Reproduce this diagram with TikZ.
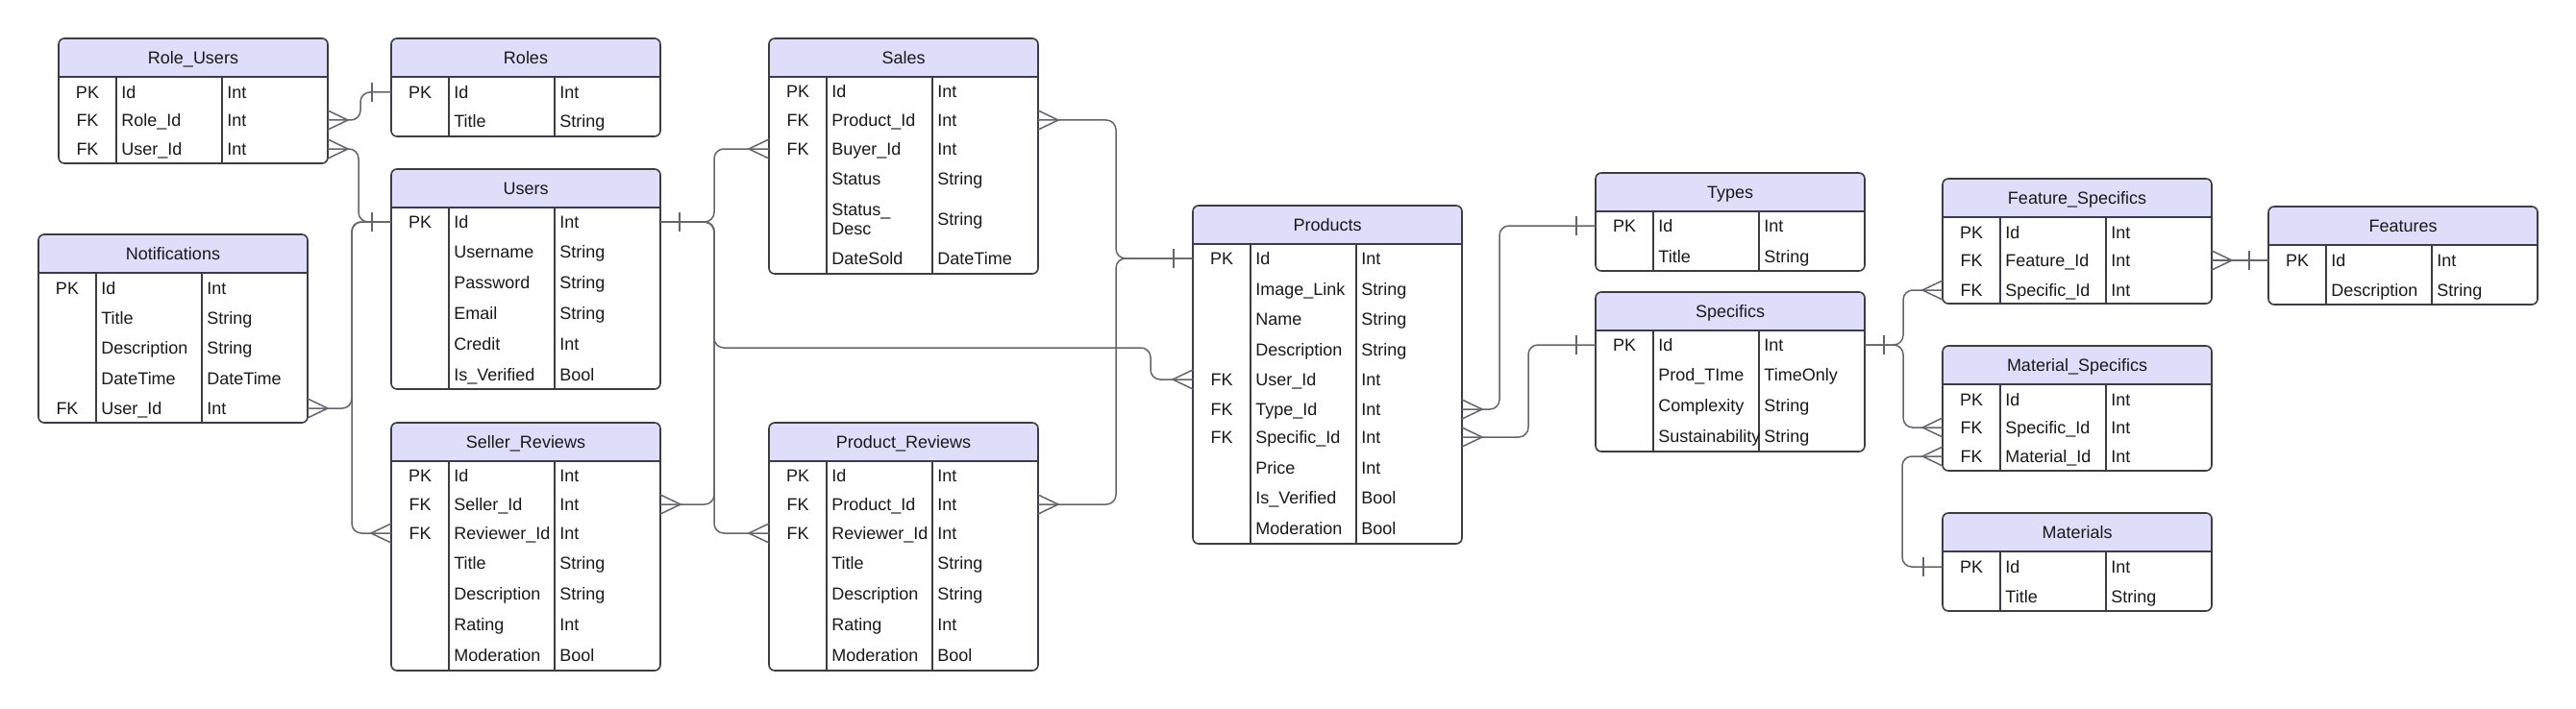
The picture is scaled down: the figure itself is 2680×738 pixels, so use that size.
\documentclass[tikz,border=0pt]{standalone}
\usepackage{fontspec}
\setmainfont{Liberation Sans}

\definecolor{hdr}{RGB}{222,222,250}
\definecolor{tabline}{RGB}{60,60,68}
\definecolor{linkline}{RGB}{100,100,110}
\definecolor{txt}{RGB}{25,25,25}

% one table: name, left x, top y, bottom y, title, rows y/key/field/type
\newcommand{\ertable}[6]{%
  \begin{scope}
    \clip[rounded corners=3pt] (#2,#3) rectangle (#2+280,#4);
    \fill[white] (#2,#3) rectangle (#2+280,#4);
    \fill[hdr] (#2,#3) rectangle (#2+280,#3+40);
  \end{scope}
  \draw[tbl, rounded corners=3pt] (#2,#3) rectangle (#2+280,#4);
  \draw[tbl] (#2,#3+40) -- (#2+280,#3+40)
             (#2+60,#3+40) -- (#2+60,#4)
             (#2+170,#3+40) -- (#2+170,#4);
  \node[ttl] (#1) at (#2+140,#3+22) {\vphantom{Ag}#5};
  \foreach \y/\kk/\fld/\typ [count=\i] in {#6} {
    \node[keytxt] at (#2+30,\y+2) {\vphantom{Ag}\kk};
    \node[fldtxt] (#1-\i) at (#2+60,\y+2) {\vphantom{Ag}\fld};
    \node[fldtxt] at (#2+170,\y+2) {\vphantom{Ag}\typ};
    \coordinate (#1-\i-w) at (#2,\y);
    \coordinate (#1-\i-e) at (#2+280,\y);
  }
}
% crow's foot and bar at a row end
\newcommand{\crowfoot}[2]{\draw[endline] (#1) +(0,-10) -- +(#2,0) -- +(0,10);}
\newcommand{\onebar}[2]{\draw[endline] (#1) +(#2,-10) -- +(#2,10);}

\begin{document}
\begin{tikzpicture}[x=0.5pt, y=-0.5pt,
  tbl/.style={draw=tabline, line width=0.8pt},
  link/.style={draw=linkline, line width=0.75pt, rounded corners=5pt},
  endline/.style={draw=linkline, line width=0.75pt},
  ttl/.style={font=\fontsize{9}{10}\selectfont, text=txt, inner sep=0pt},
  keytxt/.style={font=\fontsize{9}{10}\selectfont, text=txt, inner sep=0pt},
  fldtxt/.style={font=\fontsize{9}{10}\selectfont, text=txt, anchor=west, inner xsep=2.5pt, inner ysep=0pt}]

\useasboundingbox (0,0) rectangle (2680,738);
\fill[white] (0,0) rectangle (2680,738);

\ertable{roleusers}{61}{40}{170}{Role\_Users}{96/PK/Id/Int, 125/FK/Role\_Id/Int, 155/FK/User\_Id/Int}
\ertable{roles}{407}{40}{142}{Roles}{96/PK/Id/Int, 126/{}/Title/String}
\ertable{users}{407}{176}{405}{Users}{231/PK/Id/Int, 262/{}/Username/String, 294/{}/Password/String, 326/{}/Email/String, 358/{}/Credit/Int, 390/{}/Is\_Verified/Bool}
\ertable{notif}{40}{244}{440}{Notifications}{300/PK/Id/Int, 331/{}/Title/String, 362/{}/Description/String, 394/{}/DateTime/DateTime, 425/FK/User\_Id/Int}
\ertable{sellrev}{407}{440}{698}{Seller\_Reviews}{495/PK/Id/Int, 525/FK/Seller\_Id/Int, 555/FK/Reviewer\_Id/Int, 586/{}/Title/String, 618/{}/Description/String, 650/{}/Rating/Int, 682/{}/Moderation/Bool}
\ertable{sales}{800}{40}{285}{Sales}{95/PK/Id/Int, 125/FK/Product\_Id/Int, 155/FK/Buyer\_Id/Int, 186/{}/Status/String, 228/{}/{\begin{tabular}{@{}l@{}}Status\_\\Desc\end{tabular}}/String, 269/{}/DateSold/DateTime}
\ertable{prodrev}{800}{440}{698}{Product\_Reviews}{495/PK/Id/Int, 525/FK/Product\_Id/Int, 555/FK/Reviewer\_Id/Int, 586/{}/Title/String, 618/{}/Description/String, 650/{}/Rating/Int, 682/{}/Moderation/Bool}
\ertable{products}{1241}{214}{566}{Products}{269/PK/Id/Int, 301/{}/Image\_Link/String, 332/{}/Name/String, 364/{}/Description/String, 395/FK/User\_Id/Int, 426/FK/Type\_Id/Int, 455/FK/Specific\_Id/Int, 487/{}/Price/Int, 518/{}/Is\_Verified/Bool, 550/{}/Moderation/Bool}
\ertable{types}{1660}{180}{282}{Types}{235/PK/Id/Int, 267/{}/Title/String}
\ertable{specifics}{1660}{304}{470}{Specifics}{359/PK/Id/Int, 390/{}/Prod\_TIme/TimeOnly, 422/{}/Complexity/String, 454/{}/Sustainability/String}
\ertable{featspec}{2021}{186}{316}{Feature\_Specifics}{242/PK/Id/Int, 271/FK/Feature\_Id/Int, 302/FK/Specific\_Id/Int}
\ertable{features}{2360}{215}{317}{Features}{271/PK/Id/Int, 302/{}/Description/String}
\ertable{matspec}{2021}{360}{490}{Material\_Specifics}{416/PK/Id/Int, 445/FK/Specific\_Id/Int, 475/FK/Material\_Id/Int}
\ertable{materials}{2021}{534}{636}{Materials}{590/PK/Id/Int, 621/{}/Title/String}

% Users, left side
\draw[link] (roles-1-w) -- ++(-32,0) |- (roleusers-2-e);
\draw[link] (users-1-w) -- ++(-34,0) |- (roleusers-3-e);
\draw[link] (users-1-w) -- ++(-41,0) |- (notif-5-e);
\draw[link] (users-1-w) -- ++(-41,0) |- (sellrev-3-w);
\onebar{roles-1-w}{-20} \crowfoot{roleusers-2-e}{21}
\onebar{users-1-w}{-20} \crowfoot{roleusers-3-e}{21}
\crowfoot{notif-5-e}{21} \crowfoot{sellrev-3-w}{-21}

% Users, right side
\draw[link] (users-1-e) -- ++(56,0) |- (sales-3-w);
\draw[link] (users-1-e) -- ++(56,0) |- (sellrev-2-e);
\draw[link] (users-1-e) -- ++(56,0) |- (prodrev-3-w);
\draw[link] (users-1-e) -- ++(56,0) -- ++(0,131) -- ++(454,0) |- (products-5-w);
\onebar{users-1-e}{20} \crowfoot{sales-3-w}{-21} \crowfoot{sellrev-2-e}{21}
\crowfoot{prodrev-3-w}{-21} \crowfoot{products-5-w}{-21}

% Products
\draw[link] (products-1-w) -- ++(-80,0) |- (sales-2-e);
\draw[link] (products-1-w) -- ++(-80,0) |- (prodrev-2-e);
\draw[link] (types-1-w) -- ++(-100,0) |- (products-6-e);
\draw[link] (specifics-1-w) -- ++(-70,0) |- (products-7-e);
\onebar{products-1-w}{-20} \crowfoot{sales-2-e}{21} \crowfoot{prodrev-2-e}{21}
\onebar{types-1-w}{-20} \crowfoot{products-6-e}{21}
\onebar{specifics-1-w}{-20} \crowfoot{products-7-e}{21}

% Specifics, Features, Materials
\draw[link] (specifics-1-e) -- ++(40,0) |- (featspec-3-w);
\draw[link] (specifics-1-e) -- ++(40,0) |- (matspec-2-w);
\draw[link] (features-1-w) -- (featspec-2-e);
\draw[link] (materials-1-w) -- ++(-42,0) |- (matspec-3-w);
\onebar{specifics-1-e}{20} \crowfoot{featspec-3-w}{-21} \crowfoot{matspec-2-w}{-21}
\onebar{features-1-w}{-20} \crowfoot{featspec-2-e}{21}
\onebar{materials-1-w}{-20} \crowfoot{matspec-3-w}{-21}

\end{tikzpicture}
\end{document}
